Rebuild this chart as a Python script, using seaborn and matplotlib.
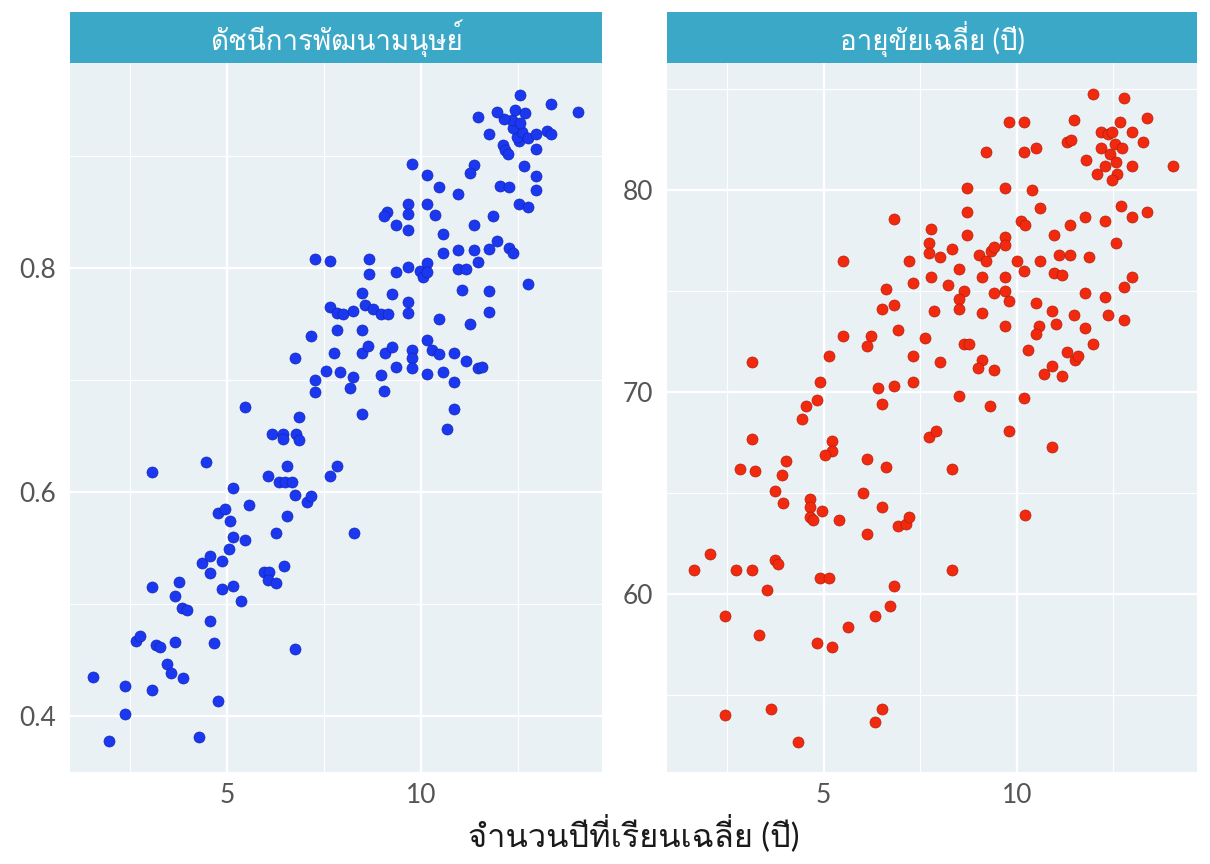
import numpy as np
import pandas as pd
import matplotlib
matplotlib.use("Agg")
import matplotlib.pyplot as plt
import seaborn as sns
from matplotlib import font_manager
from matplotlib.ft2font import FT2Font
from matplotlib.ticker import MultipleLocator

# ------------------------
# ข้อมูล (อ่านค่าจากภาพ)
hdi_school = [1.55, 1.96, 2.37, 2.37, 2.65, 2.76, 3.07, 3.07, 3.07, 3.17, 3.27, 3.45, 3.56, 3.66,
              3.66, 3.76, 3.87, 3.84, 3.97, 4.28, 4.46, 4.36, 4.56, 4.87, 4.56, 4.56, 4.66, 4.77,
              4.77, 4.95, 5.08, 4.87, 5.15, 5.36, 5.15, 5.15, 5.46, 5.05, 5.57, 5.46, 5.95, 6.08,
              6.06, 6.26, 6.47, 6.26, 6.55, 6.75, 7.06, 7.16, 6.06, 6.34, 6.49, 6.68, 6.55, 6.16,
              6.44, 6.44, 6.78, 6.86, 6.86, 6.75, 7.65, 7.84, 8.27, 7.27, 7.27, 6.75, 7.16, 7.55,
              7.91, 7.76, 7.84, 7.65, 7.27, 7.65, 7.84, 7.99,
              8.25, 8.56, 8.76, 8.97, 9.15, 8.48, 8.48, 8.63, 9.07, 9.25, 9.77, 9.77, 9.77, 9.36,
              10.15, 10.57, 10.85, 8.25, 8.17, 8.97, 9.05, 8.48, 10.85, 10.67, 10.15, 10.28, 10.46,
              10.85, 11.16, 11.47, 11.57, 10.46, 11.26, 11.75, 11.06, 11.75, 8.48, 9.25, 9.66, 9.66,
              8.66, 8.66, 9.36, 9.66, 9.97, 10.15, 10.05, 10.15, 10.95, 11.16, 12.76, 10.57, 10.95,
              11.37, 11.47, 11.75, 12.27, 12.37, 11.96, 10.57, 11.37, 11.86, 12.53, 12.76, 9.66,
              9.36, 10.36, 9.12, 9.05, 9.66, 9.66, 10.15, 12.96, 12.04, 12.27, 10.95, 10.46, 12.96,
              10.15, 12.65, 11.37, 11.26, 9.77, 12.96, 12.11, 12.16, 12.24, 12.53, 12.47, 12.60,
              12.76, 12.96, 13.25, 13.35, 11.75, 12.37, 12.35, 12.55, 12.42, 12.68, 12.14, 11.96,
              11.47, 14.05, 13.35, 12.55]
hdi_value = [0.435, 0.378, 0.427, 0.402, 0.467, 0.471, 0.515, 0.423, 0.618, 0.463, 0.462, 0.446,
             0.438, 0.507, 0.466, 0.520, 0.434, 0.496, 0.495, 0.381, 0.627, 0.537, 0.543, 0.538,
             0.528, 0.485, 0.465, 0.413, 0.581, 0.585, 0.574, 0.513, 0.516, 0.503, 0.604, 0.560,
             0.557, 0.549, 0.588, 0.676, 0.529, 0.529, 0.521, 0.519, 0.534, 0.563, 0.579, 0.597,
             0.591, 0.596, 0.614, 0.609, 0.609, 0.609, 0.623, 0.652, 0.652, 0.647, 0.652, 0.646,
             0.667, 0.460, 0.614, 0.623, 0.563, 0.689, 0.700, 0.720, 0.739, 0.708, 0.707, 0.724,
             0.745, 0.765, 0.808, 0.806, 0.760, 0.759,
             0.762, 0.767, 0.763, 0.759, 0.759, 0.745, 0.724, 0.730, 0.724, 0.729, 0.727, 0.720,
             0.711, 0.712, 0.705, 0.707, 0.698, 0.703, 0.693, 0.704, 0.690, 0.670, 0.674, 0.656,
             0.736, 0.727, 0.723, 0.724, 0.717, 0.711, 0.712, 0.754, 0.750, 0.761, 0.780, 0.779,
             0.778, 0.777, 0.770, 0.760, 0.808, 0.795, 0.796, 0.801, 0.797, 0.804, 0.792, 0.796,
             0.799, 0.799, 0.786, 0.813, 0.816, 0.816, 0.805, 0.817, 0.818, 0.813, 0.824, 0.830,
             0.838, 0.846, 0.857, 0.854, 0.834, 0.838, 0.847, 0.850, 0.846, 0.857, 0.848, 0.857,
             0.870, 0.873, 0.872, 0.866, 0.872, 0.882, 0.883, 0.891, 0.892, 0.885, 0.893, 0.906,
             0.910, 0.905, 0.902, 0.913, 0.917, 0.921, 0.916, 0.920, 0.922, 0.920, 0.920, 0.925,
             0.932, 0.929, 0.941, 0.938, 0.933, 0.939, 0.935, 0.939, 0.946, 0.954]

life_school = [6.82, 7.77, 7.72, 7.72, 5.51, 7.21, 7.77, 7.31, 6.62, 6.82, 6.51, 7.85, 6.92, 5.51,
               6.23, 6.13, 7.62, 5.13, 7.31, 3.15, 4.92, 6.41, 6.82, 7.31, 4.82, 4.54, 6.51, 4.44,
               3.15, 5.23, 5.23, 5.03, 6.13, 6.62, 7.72, 7.92, 4.03, 2.85, 3.23, 3.92, 3.74, 6.03,
               3.95, 4.64, 4.64, 4.64, 4.72, 4.95, 5.41, 6.51, 6.92, 7.13, 7.21, 6.13, 2.05, 1.64,
               2.74, 3.15, 3.74, 3.82, 4.92, 5.13, 3.54, 6.82, 2.44, 6.72, 6.33, 5.62, 3.33, 4.82,
               5.23, 2.44, 3.64, 6.51, 6.33, 4.33,
               9.79, 10.90, 8.31, 10.21, 8.31,
               11.97, 12.77, 9.79, 10.18, 11.49, 13.36, 12.67, 12.18, 12.36, 12.46, 12.97, 11.31,
               11.41, 9.21, 10.18, 10.49, 12.18, 12.54, 12.72, 12.41, 13.26, 11.79, 12.28, 12.56,
               12.97, 14.05, 12.08, 12.59, 12.46, 8.72, 9.69, 10.38, 10.59, 12.69, 12.97, 13.36,
               8.72, 10.10, 10.21, 11.77, 12.28, 11.38, 8.72, 10.97, 12.56, 8.0, 8.31, 9.69, 9.69,
               9.03, 9.21, 9.33, 9.41, 10.0, 10.59, 11.08, 11.38, 11.87, 8.51, 8.21, 9.10, 9.69,
               10.18, 10.97, 11.18, 12.97, 12.77, 8.62, 8.51, 8.51, 9.41, 9.69, 9.79, 11.77, 12.28,
               10.49, 9.10, 10.90, 11.0, 11.49, 12.36, 12.77, 9.69, 10.56, 10.49, 11.77, 8.62, 8.77,
               11.97, 10.28, 11.31, 11.51, 11.59, 8.0, 9.10, 9.0, 9.41, 10.90, 10.69, 11.18, 8.51,
               9.31, 10.18]
life_years = [78.6, 78.1, 77.4, 76.9, 76.5, 76.5, 75.7, 75.4, 75.1, 74.3, 74.1, 74.0, 73.1, 72.8,
              72.8, 72.3, 72.7, 71.8, 71.8, 71.5, 70.5, 70.2, 70.3, 70.5, 69.6, 69.3, 69.4, 68.7,
              67.7, 67.6, 67.1, 66.9, 66.7, 66.3, 67.8, 68.1, 66.6, 66.2, 66.1, 65.9, 65.1, 65.0,
              64.5, 64.7, 64.3, 63.8, 63.7, 64.1, 63.7, 64.3, 63.4, 63.5, 63.8, 63.0, 62.0, 61.2,
              61.2, 61.2, 61.7, 61.5, 60.8, 60.8, 60.2, 60.4, 58.9, 59.4, 58.9, 58.4, 58.0, 57.6,
              57.4, 54.0, 54.3, 54.3, 53.7, 52.7,
              68.1, 67.3, 66.2, 63.9, 61.2,
              84.75, 84.55, 83.4, 83.4, 83.5, 83.6, 83.4, 82.9, 82.8, 82.9, 82.9, 82.4,
              82.5, 81.9, 81.9, 82.1, 82.1, 82.3, 82.1, 81.8, 82.4, 81.5, 81.2, 81.4,
              81.2, 81.2, 80.8, 80.8, 80.5, 80.1, 80.1, 80.0, 79.1, 79.2, 78.7, 78.9,
              78.9, 78.5, 78.3, 78.7, 78.5, 78.3, 77.8, 77.8, 77.4, 76.7, 77.1, 77.7, 77.3,
              76.8, 76.5, 77.0, 77.2, 76.5, 76.5, 76.8, 76.8, 76.7, 76.1, 75.3, 75.7, 75.7,
              76.0, 75.9, 75.8, 75.7, 75.2, 75.0, 74.6, 74.1, 74.9, 75.0, 74.5, 74.9, 74.7,
              74.4, 73.9, 74.0, 73.4, 73.8, 73.8, 73.6, 73.3, 73.3, 72.9, 73.2, 72.4, 72.4,
              72.4, 72.1, 72.0, 71.6, 71.8, 71.5, 71.6, 71.2, 71.1, 71.3, 70.9, 70.8, 69.8,
              69.3, 69.7]

panel_titles = ["ดัชนีการพัฒนามนุษย์", "อายุขัยเฉลี่ย (ปี)"]
x_title = "จำนวนปีที่เรียนเฉลี่ย (ปี)"

df_hdi = pd.DataFrame({"school": hdi_school, "value": hdi_value})
df_life = pd.DataFrame({"school": life_school, "value": life_years})


# ------------------------
# หาฟอนต์ที่มีตัวอักษรไทย
def find_thai_font():
    names = []
    for f in font_manager.fontManager.ttflist:
        try:
            cmap = FT2Font(f.fname).get_charmap()
        except Exception:
            continue
        if 0x0E14 in cmap and 0x0E31 in cmap:
            names.append(f.name)
    return names


thai_fonts = find_thai_font()

sns.set_theme(style="whitegrid")
fams = ["Lato"] + thai_fonts[:1] + ["DejaVu Sans"]
plt.rcParams["font.family"] = fams

panel_bg = "#EAF1F5"
strip_bg = "#3BA8C8"

fig = plt.figure(figsize=(12.1, 8.64), dpi=100)
W, H = 1210, 864

panels = [
    (df_hdi, 70, 532, "#1B38F0", "#0E22A8", (0.35, 0.983), 0.2, 0.1, panel_titles[0]),
    (df_life, 667, 530, "#F0290F", "#A81A08", (51.2, 86.3), 10, 5, panel_titles[1]),
]

for df, left, width, col, edge, ylim, major, minor, title in panels:
    ax = fig.add_axes([left / W, 1 - 772 / H, width / W, (772 - 63) / H])
    ax.set_facecolor(panel_bg)
    sns.scatterplot(data=df, x="school", y="value", ax=ax, color=col,
                    edgecolor=edge, linewidth=0.4, s=64, zorder=3)
    ax.set_xlim(0.95, 14.66)
    ax.set_ylim(*ylim)
    ax.xaxis.set_major_locator(MultipleLocator(5))
    ax.xaxis.set_minor_locator(MultipleLocator(2.5))
    ax.yaxis.set_major_locator(MultipleLocator(major))
    ax.yaxis.set_minor_locator(MultipleLocator(minor))
    ax.grid(which="major", color="white", linewidth=1.6)
    ax.grid(which="minor", color="white", linewidth=0.8)
    ax.set_axisbelow(True)
    for sp in ax.spines.values():
        sp.set_visible(False)
    ax.tick_params(which="major", length=5, width=1.4, color="#333333",
                   labelcolor="#555555", labelsize=19)
    ax.tick_params(axis="x", which="major", pad=3)
    ax.tick_params(axis="y", which="major", pad=5)
    ax.tick_params(which="minor", length=0)
    ax.set_xlabel("")
    ax.set_ylabel("")
    if major == 0.2:
        ax.set_yticks([0.4, 0.6, 0.8])
        ax.set_yticklabels(["0.4", "0.6", "0.8"])

    # แถบหัวข้อด้านบน
    sax = fig.add_axes([left / W, 1 - 63 / H, width / W, 51 / H])
    sax.set_facecolor(strip_bg)
    sax.set_xticks([])
    sax.set_yticks([])
    for sp in sax.spines.values():
        sp.set_visible(False)
    sax.text(0.5, 0.48, title, ha="center", va="center", color="white",
             fontsize=20, transform=sax.transAxes)

fig.text((70 + 1197) / 2 / W, 1 - 833 / H, x_title, ha="center", va="center",
         fontsize=23.5, color="#1A1A1A")

fig.savefig("out.png", dpi=100)
